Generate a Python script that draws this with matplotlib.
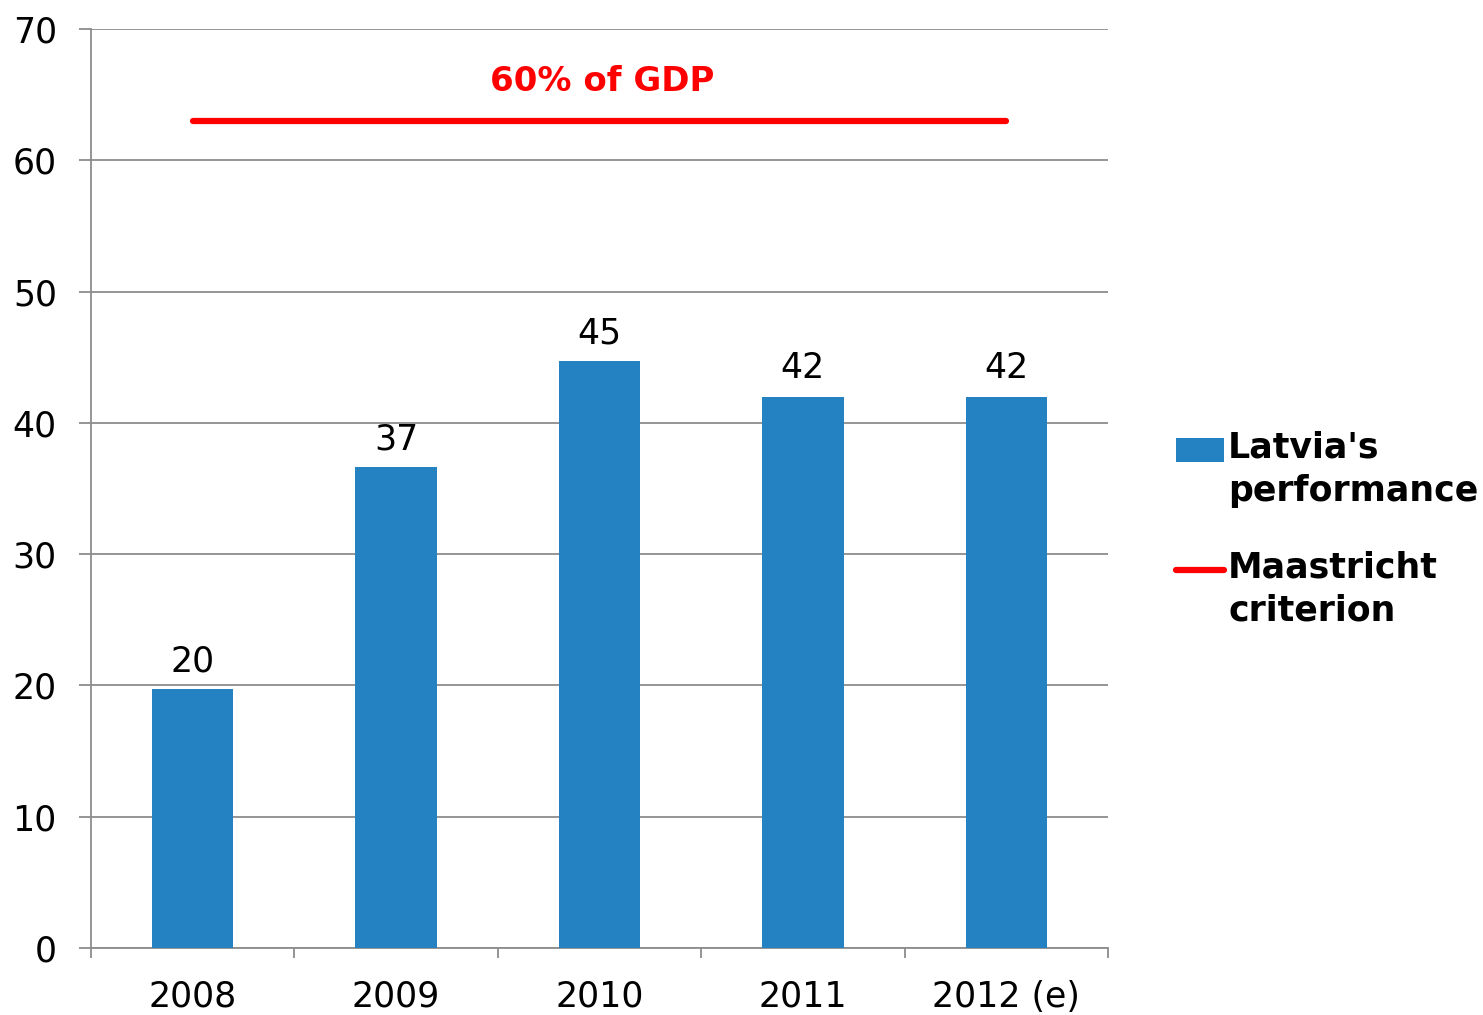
import matplotlib
matplotlib.use("Agg")
import matplotlib.pyplot as plt
import numpy as np

categories = ["2008", "2009", "2010", "2011", "2012 (e)"]
latvia = [19.7, 36.6, 44.7, 42.0, 42.0]
maastricht = [63, 63, 63, 63, 63]
y_ticks = [0, 10, 20, 30, 40, 50, 60, 70]

plt.rcParams['font.family'] = ['DejaVu Sans']
fig = plt.figure(figsize=(14.83, 10.15), dpi=100)
ax = fig.add_axes([91/1483, 67/1015, (1108-91)/1483, (948-29)/1015])

x = np.arange(len(categories))
bars = ax.bar(x, latvia, width=0.4, color="#2481C2", zorder=3, label="Latvia's\nperformance")
line, = ax.plot(x, maastricht, color="#FF0000", lw=4.5, solid_capstyle="round", zorder=4,
                label="Maastricht\ncriterion")

for xi, v in zip(x, latvia):
    ax.annotate(f"{v:.0f}", (xi, v), xytext=(0, 8), textcoords="offset points",
                ha="center", va="bottom", fontsize=25, color="black")

ax.annotate("60% of GDP", (2, 66), xytext=(2, 0), textcoords="offset points",
            color="#FF0000", fontsize=24.5, fontweight="bold", ha="center", va="center")

ax.set_xlim(-0.5, 4.5)
ax.set_ylim(0, 70)
ax.set_yticks(y_ticks)
ax.set_xticks(x)
ax.set_xticklabels(categories)
ax.set_xticks(np.arange(-0.5, 5, 1), minor=True)
ax.tick_params(axis="x", which="major", length=0, pad=23, labelsize=25)
ax.tick_params(axis="x", which="minor", length=7, width=1.3, color="#8C8C8C")
ax.tick_params(axis="y", length=8.6, width=1.3, color="#8C8C8C", pad=16, labelsize=25)

ax.grid(axis="y", color="#8C8C8C", lw=1.3, zorder=0)
for s in ["top", "right"]:
    ax.spines[s].set_visible(False)
for s in ["left", "bottom"]:
    ax.spines[s].set_color("#8C8C8C")
    ax.spines[s].set_linewidth(1.3)

leg = fig.legend([bars, line], ["Latvia's\nperformance", "Maastricht\ncriterion"],
                 loc="upper left", bbox_to_anchor=(1176/1483, 1 - 431/1015),
                 frameon=False, prop={"weight": "bold", "size": 25},
                 handlelength=1.38, handleheight=0.66, handletextpad=0.12,
                 labelspacing=1.23, borderaxespad=0, borderpad=0)
for t in leg.get_texts():
    t.set_linespacing(1.33)
# align handles with the first line of each two-line label
shift = 15
hb, hl = leg.legend_handles
hb.set_y(hb.get_y() + shift)
hl.set_ydata(np.asarray(hl.get_ydata()) + shift)

fig.savefig("out.png", dpi=100)
